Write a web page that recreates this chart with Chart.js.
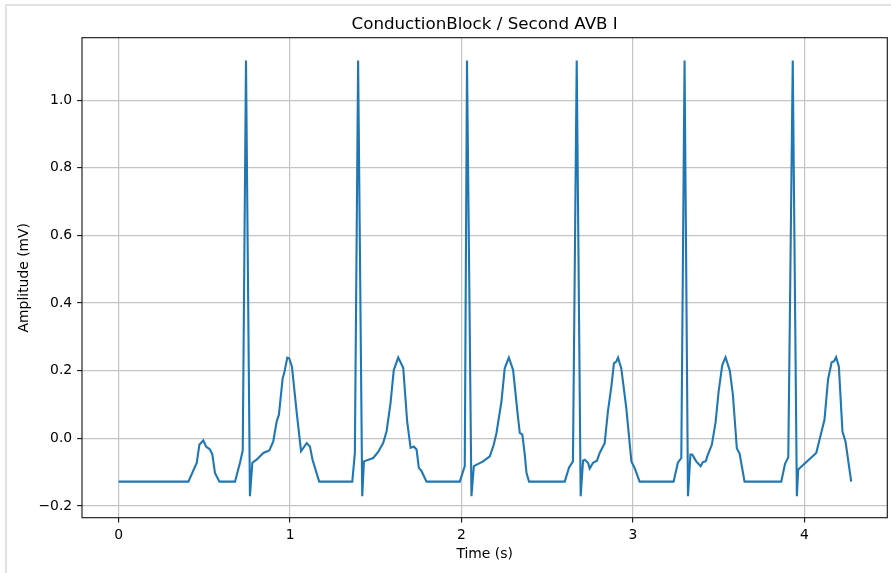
<!DOCTYPE html>
<html><head><meta charset="utf-8">
<script src="https://cdn.jsdelivr.net/npm/chart.js@4"></script>
<style>html,body{margin:0;padding:0;background:#fff;} canvas{display:block;}</style>
</head><body>
<canvas id="c" width="891" height="573"></canvas>
<script>
const chartTitle = "ConductionBlock / Second AVB I";
const xAxisTitle = "Time (s)";
const yAxisTitle = "Amplitude (mV)";

const timeS = [
  0, 0.407, 0.456, 0.471, 0.494, 0.510, 0.533, 0.547, 0.562, 0.588,
  0.679, 0.708, 0.724, 0.743, 0.766, 0.780, 0.805, 0.844, 0.879, 0.902,
  0.922, 0.935, 0.957, 0.966, 0.984, 0.995, 1.011, 1.038, 1.064, 1.097,
  1.116, 1.131, 1.170,
  1.363, 1.378, 1.397, 1.421, 1.431, 1.485, 1.514, 1.543, 1.563, 1.586,
  1.605, 1.631, 1.660, 1.683, 1.703, 1.722, 1.738, 1.751, 1.767, 1.796,
  1.990, 2.019, 2.032, 2.058, 2.072, 2.126, 2.165, 2.188, 2.204, 2.233,
  2.252, 2.276, 2.301, 2.330, 2.340, 2.355, 2.369, 2.379, 2.394,
  2.602, 2.627, 2.650, 2.672, 2.695, 2.709, 2.719, 2.738, 2.748, 2.767,
  2.790, 2.806, 2.835, 2.854, 2.874, 2.889, 2.903, 2.913, 2.932, 2.961,
  2.991, 3.010, 3.039,
  3.237, 3.262, 3.282, 3.301, 3.321, 3.335, 3.346, 3.369, 3.395, 3.408,
  3.424, 3.437, 3.460, 3.482, 3.500, 3.521, 3.540, 3.565, 3.583, 3.606,
  3.622, 3.651,
  3.865, 3.887, 3.906, 3.932, 3.956, 3.964, 4.069, 4.095, 4.117, 4.138,
  4.159, 4.173, 4.185, 4.201, 4.222, 4.240, 4.273
];
const amplitudeMv = [
  -0.128, -0.128, -0.072, -0.019, -0.006, -0.024, -0.033, -0.048, -0.102, -0.128,
  -0.128, -0.072, -0.036, 1.117, -0.171, -0.072, -0.063, -0.043, -0.036, -0.009,
  0.050, 0.070, 0.178, 0.193, 0.239, 0.237, 0.212, 0.080, -0.038, -0.014,
  -0.024, -0.063, -0.128,
  -0.128, -0.043, 1.117, -0.171, -0.068, -0.058, -0.040, -0.014, 0.021, 0.104,
  0.202, 0.239, 0.209, 0.050, -0.028, -0.024, -0.033, -0.087, -0.097, -0.128,
  -0.128, -0.082, 1.117, -0.171, -0.082, -0.068, -0.053, -0.019, 0.016, 0.109,
  0.207, 0.239, 0.202, 0.060, 0.016, 0.011, -0.048, -0.102, -0.128,
  -0.128, -0.087, -0.068, 1.117, -0.171, -0.066, -0.063, -0.072, -0.089, -0.072,
  -0.066, -0.043, -0.014, 0.080, 0.153, 0.222, 0.227, 0.239, 0.207, 0.090,
  -0.068, -0.088, -0.128,
  -0.128, -0.072, -0.058, 1.117, -0.171, -0.048, -0.048, -0.068, -0.082, -0.070,
  -0.068, -0.048, -0.019, 0.048, 0.140, 0.217, 0.240, 0.200, 0.129, -0.030,
  -0.045, -0.128,
  -0.128, -0.075, -0.056, 1.117, -0.171, -0.092, -0.043, 0.010, 0.055, 0.175,
  0.225, 0.228, 0.240, 0.212, 0.020, -0.010, -0.128
];
const xTickValues = [0, 1, 2, 3, 4];
const yTickValues = [-0.2, 0.0, 0.2, 0.4, 0.6, 0.8, 1.0];

const points = timeS.map((t, i) => ({ x: t, y: amplitudeMv[i] }));
const FONT = "'DejaVu Sans', sans-serif";

const decor = {
  id: 'decor',
  beforeDraw(chart) {
    const ctx = chart.ctx;
    ctx.save();
    ctx.fillStyle = '#ffffff';
    ctx.fillRect(0, 0, chart.width, chart.height);
    ctx.fillStyle = '#e2e2e2';
    ctx.fillRect(5, 4, 2, chart.height - 4);
    ctx.fillRect(5, 4, chart.width - 5, 2);
    ctx.restore();
  },
  afterDraw(chart) {
    const ctx = chart.ctx;
    const a = chart.chartArea;
    ctx.save();
    ctx.strokeStyle = '#111';
    ctx.lineWidth = 1.1;
    ctx.strokeRect(a.left, a.top, a.right - a.left, a.bottom - a.top);
    ctx.fillStyle = '#000';
    ctx.textAlign = 'center';
    ctx.font = '16.7px ' + FONT;
    ctx.textBaseline = 'alphabetic';
    ctx.fillText(chartTitle, (a.left + a.right) / 2, a.top - 8.3);
    ctx.font = '13.9px ' + FONT;
    ctx.textBaseline = 'middle';
    ctx.fillText(xAxisTitle, (a.left + a.right) / 2, 554);
    ctx.translate(24, (a.top + a.bottom) / 2);
    ctx.rotate(-Math.PI / 2);
    ctx.fillText(yAxisTitle, 0, 0);
    ctx.restore();
  }
};

new Chart(document.getElementById('c'), {
  type: 'line',
  data: {
    datasets: [{
      data: points,
      borderColor: '#1f77b4',
      borderWidth: 2.1,
      pointRadius: 0,
      tension: 0,
      fill: false
    }]
  },
  options: {
    responsive: false,
    animation: false,
    devicePixelRatio: 1,
    layout: { padding: { left: 0, top: 37.7, right: 3.7, bottom: 0 } },
    plugins: { legend: { display: false }, title: { display: false }, tooltip: { enabled: false } },
    scales: {
      x: {
        type: 'linear',
        min: -0.2135,
        max: 4.4835,
        afterBuildTicks: s => { s.ticks = xTickValues.map(v => ({ value: v })); },
        afterFit: s => { s.height = 573 - 517.7; },
        grid: { color: '#c4c4c4', lineWidth: 1.2, tickColor: '#111', tickLength: 4.9, tickWidth: 1.1 },
        border: { display: false },
        ticks: {
          color: '#000', font: { family: FONT, size: 13.9 }, padding: 4,
          maxRotation: 0, autoSkip: false,
          callback: v => String(Math.round(v))
        }
      },
      y: {
        type: 'linear',
        min: -0.2345,
        max: 1.1845,
        afterBuildTicks: s => { s.ticks = yTickValues.map(v => ({ value: v })); },
        afterFit: s => { s.width = 82; },
        grid: { color: '#c4c4c4', lineWidth: 1.2, tickColor: '#111', tickLength: 4.9, tickWidth: 1.1 },
        border: { display: false },
        ticks: {
          color: '#000', font: { family: FONT, size: 13.9 }, padding: 4.9, autoSkip: false,
          callback: v => v.toFixed(1).replace('-', '\u2212')
        }
      }
    }
  },
  plugins: [decor]
});
</script>
</body></html>
